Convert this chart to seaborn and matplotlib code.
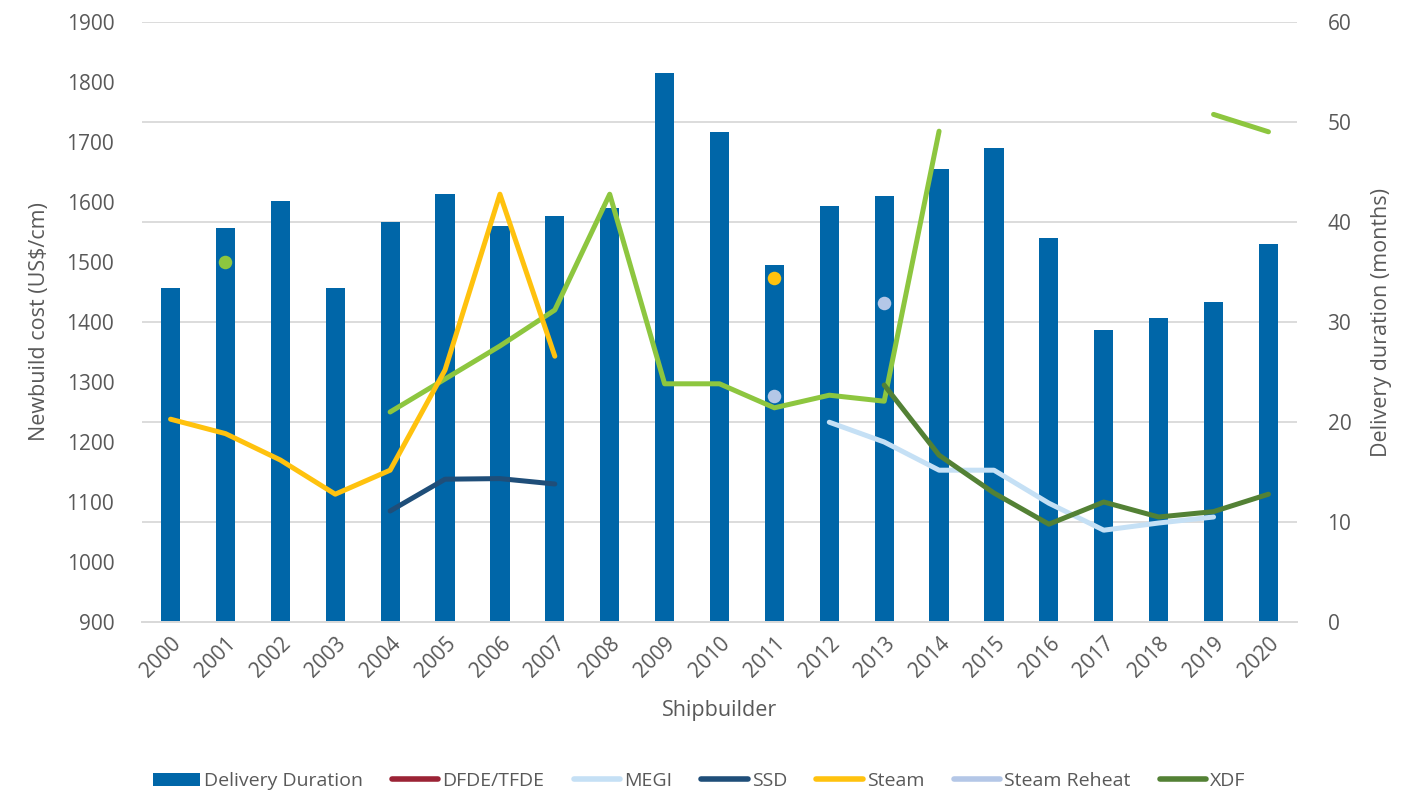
import numpy as np
import pandas as pd
import matplotlib
matplotlib.use("Agg")
import matplotlib.pyplot as plt
from matplotlib.patches import Patch
from matplotlib.lines import Line2D
import seaborn as sns

# ---- data -------------------------------------------------------------
years = [str(y) for y in range(2000, 2021)]

# delivery duration (months), right axis
delivery_months = [33.4, 39.4, 42.1, 33.4, 40.0, 42.8, 39.6, 40.6, 41.4, 54.9,
                   49.0, 35.7, 41.6, 42.6, 45.3, 47.4, 38.4, 29.2, 30.4, 32.0, 37.8]

nan = np.nan
# newbuild cost (US$/cm), left axis
tfde_cost = [nan, 1500, nan, nan, 1250, 1305, 1360, 1420, 1613, 1297,
             1297, 1257, 1278, 1268, 1718, nan, nan, nan, nan, 1746, 1717]
dfde_cost = [nan] * 21
megi_cost = [nan] * 12 + [1233, 1200, 1153, 1153, 1098, 1053, 1065, 1075, nan]
ssd_cost = [nan] * 4 + [1085, 1138, 1139, 1130] + [nan] * 13
steam_cost = [1238, 1214, 1170, 1113, 1153, 1320, 1613, 1343,
              nan, nan, nan, 1473] + [nan] * 9
steam_reheat_cost = [nan] * 11 + [1277, nan, 1432] + [nan] * 7
xdf_cost = [nan] * 13 + [1295, 1178, 1115, 1063, 1100, 1075, 1084, 1113]

# ---- style --------------------------------------------------------------
sns.set_theme(style="white")
plt.rcParams["font.family"] = ["Open Sans", "DejaVu Sans"]
text_col = "#595959"
grid_col = "#D9D9D9"

c_bar = "#0066A8"
c_tfde = "#8DC63F"
c_dfde = "#9B2335"
c_megi = "#C5E0F5"
c_ssd = "#1F4E79"
c_steam = "#FFC20E"
c_reheat = "#B4C7E7"
c_xdf = "#538135"

fig = plt.figure(figsize=(14.23, 7.95), dpi=100)
ax = fig.add_axes([142 / 1423, 1 - 622 / 795, (1297 - 142) / 1423, 600 / 795])
ax2 = ax.twinx()

# bars on the right (months) axis, kept underneath the cost lines
ax2.set_zorder(1)
ax.set_zorder(2)
ax.patch.set_visible(False)

df_bar = pd.DataFrame({"year": years, "months": delivery_months})
sns.barplot(data=df_bar, x="year", y="months", ax=ax2, color=c_bar,
            width=0.35, saturation=1, linewidth=0)
ax2.set_ylim(0, 60)
ax2.set_yticks(range(0, 61, 10))
ax2.yaxis.grid(True, color=grid_col, linewidth=1.3)
ax2.set_axisbelow(True)
ax2.set_ylabel("Delivery duration (months)", fontsize=15.5, color=text_col,
               labelpad=14)
ax2.tick_params(axis="y", labelsize=15, colors=text_col, length=0, pad=22)

xpos = np.arange(len(years))


def draw_series(values, color):
    s = pd.Series(values, index=xpos, dtype=float)
    # contiguous runs become lines, lone values become dots
    valid = s.notna().to_numpy()
    for i in range(len(s)):
        if valid[i]:
            left = i > 0 and valid[i - 1]
            right = i < len(s) - 1 and valid[i + 1]
            if not left and not right:
                ax.scatter([xpos[i]], [s.iloc[i]], s=95, color=color,
                           zorder=4, linewidths=0)
    seg = pd.DataFrame({"x": xpos, "y": s.to_numpy()})
    seg["grp"] = (~valid).cumsum()
    seg = seg[valid]
    for _, g in seg.groupby("grp"):
        if len(g) > 1:
            sns.lineplot(data=g, x="x", y="y", ax=ax, color=color,
                         linewidth=3.6, solid_joinstyle="round",
                         solid_capstyle="round", sort=False)


draw_series(tfde_cost, c_tfde)
draw_series(steam_cost, c_steam)
draw_series(ssd_cost, c_ssd)
draw_series(megi_cost, c_megi)
draw_series(steam_reheat_cost, c_reheat)
draw_series(xdf_cost, c_xdf)

ax.set_ylim(900, 1900)
ax.set_yticks(range(900, 1901, 100))
ax.set_xlim(-0.52, len(years) - 0.48)
ax.set_xticks(xpos)
ax.set_xticklabels(years, rotation=45, ha="right", rotation_mode="anchor")
ax.tick_params(axis="x", labelsize=15, colors=text_col, length=0, pad=8)
ax.tick_params(axis="y", labelsize=15, colors=text_col, length=0, pad=20)
ax.set_xlabel("Shipbuilder", fontsize=15.5, color=text_col, labelpad=13)
ax.set_ylabel("Newbuild cost (US$/cm)", fontsize=15.5, color=text_col,
              labelpad=12)

for a in (ax, ax2):
    for side in ("top", "left", "right"):
        a.spines[side].set_visible(False)
    a.spines["bottom"].set_color(grid_col)
    a.spines["bottom"].set_linewidth(1.3)
ax2.set_xlabel("")
ax2.tick_params(axis="x", length=0, labelbottom=False)

handles = [
    Patch(facecolor=c_bar, edgecolor="none"),
    Line2D([], [], color=c_dfde, lw=4, solid_capstyle="round"),
    Line2D([], [], color=c_megi, lw=4, solid_capstyle="round"),
    Line2D([], [], color=c_ssd, lw=4, solid_capstyle="round"),
    Line2D([], [], color=c_steam, lw=4, solid_capstyle="round"),
    Line2D([], [], color=c_reheat, lw=4, solid_capstyle="round"),
    Line2D([], [], color=c_xdf, lw=4, solid_capstyle="round"),
]
labels = ["Delivery Duration", "DFDE/TFDE", "MEGI", "SSD", "Steam",
          "Steam Reheat", "XDF"]
fig.legend(handles, labels, loc="center", bbox_to_anchor=(0.4915, 1 - 781 / 795),
           ncol=7, frameon=False, fontsize=14, labelcolor=text_col,
           handlelength=2.4, handleheight=0.65, handletextpad=0.2,
           columnspacing=1.5)

fig.savefig("out.png", dpi=100)
